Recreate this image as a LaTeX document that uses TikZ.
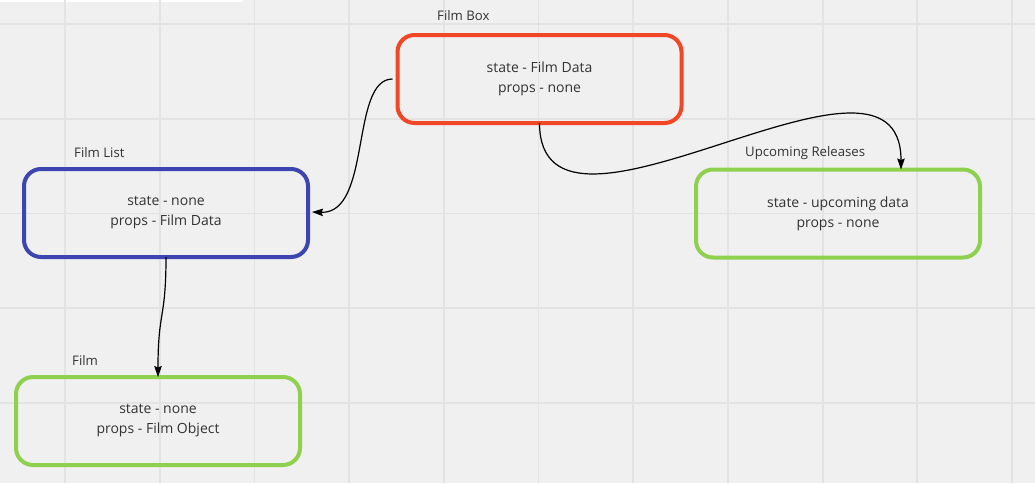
\documentclass[tikz,border=0pt]{standalone}
\usepackage{fontspec}
\setmainfont{Open Sans}
\usetikzlibrary{arrows.meta}
\definecolor{bg}{HTML}{F0F0F0}
\definecolor{gridc}{HTML}{E3E3E3}
\definecolor{mred}{HTML}{F24726}
\definecolor{mblue}{HTML}{3D46B0}
\definecolor{mgreen}{HTML}{8FD14F}
\definecolor{txt}{HTML}{333333}
\tikzset{
  compbox/.style={draw, rounded corners=17pt, line width=4pt, minimum width=284pt, minimum height=88pt,
    align=center, text=txt, inner sep=0pt, font=\fontsize{14pt}{20pt}\selectfont},
  tag/.style={anchor=base west, text=txt, inner sep=0pt, font=\fontsize{13.2pt}{16pt}\selectfont},
  conn/.style={line width=1.2pt, black, -{Stealth[length=11pt,width=7.5pt,inset=1.5pt]}}
}
\begin{document}
\begin{tikzpicture}[x=1pt,y=-1pt]
\fill[bg] (0,0) rectangle (1035,483);
\useasboundingbox (0,0) rectangle (1035,483);
\fill[white] (0,0) rectangle (243,1.5);
\foreach \i in {0,...,10} {
  \draw[gridc, line width=1.8pt] ({65+94.7*\i},0) -- ({65+94.7*\i},483);
}
\foreach \j in {0,...,4} {
  \draw[gridc, line width=1.8pt] (0,{24+94.75*\j}) -- (1035,{24+94.75*\j});
}
\node[compbox, draw=mred] (filmbox) at (539.5,79) {state - Film Data\\props - none};
\node[compbox, draw=mblue] (filmlist) at (166,213) {state - none\\props - Film Data};
\node[compbox, draw=mgreen] (upcoming) at (838,213.5) {state - upcoming data\\props - none};
\node[compbox, draw=mgreen] (film) at (158,421) {state - none\\props - Film Object};
\node[tag] (lfilmbox) at (437,20) {Film Box};
\node[tag] (lfilmlist) at (74,157) {Film List};
\node[tag] (lupcoming) at (745,156) {Upcoming Releases};
\node[tag] (lfilm) at (72,365) {Film};
\draw[conn] ([xshift=-3pt]filmbox.west) .. controls (350,79) and (372,214) .. ([xshift=2pt,yshift=1pt]filmlist.east);
\draw[conn] ([yshift=2pt]filmbox.south) .. controls (540,280) and (901,10) .. ([xshift=63pt,yshift=-2pt]upcoming.north);
\draw[conn] ([yshift=2pt]filmlist.south) .. controls (166,320) and (158,310) .. ([yshift=-2pt]film.north);
\end{tikzpicture}
\end{document}
